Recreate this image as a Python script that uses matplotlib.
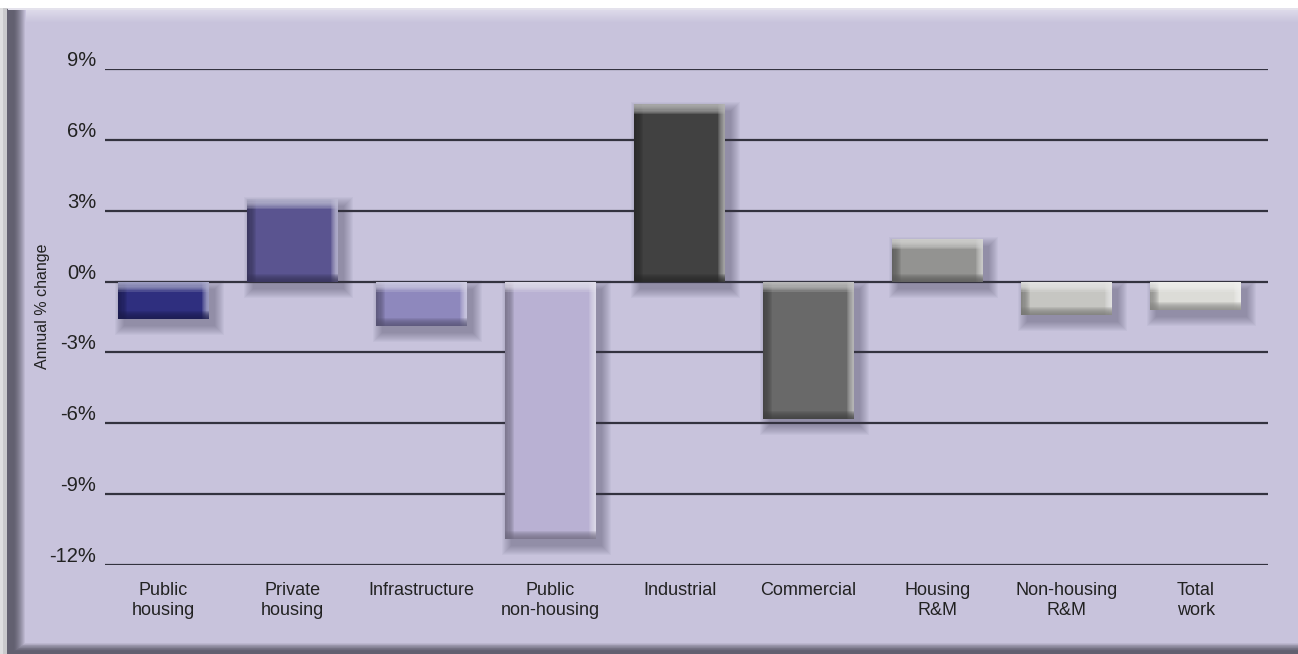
import matplotlib
matplotlib.use("Agg")
import matplotlib.pyplot as plt
from matplotlib.patches import Rectangle
from matplotlib.transforms import ScaledTranslation
import numpy as np

categories = ["Public\nhousing", "Private\nhousing", "Infrastructure", "Public\nnon-housing",
              "Industrial", "Commercial", "Housing\nR&M", "Non-housing\nR&M", "Total\nwork"]
values = [-1.6, 3.5, -1.9, -10.9, 7.5, -5.8, 1.8, -1.4, -1.2]
bar_colors = ["#2f2f7f", "#5a5490", "#8e88bd", "#b9b1d3", "#414141", "#696969",
              "#939391", "#c6c6c2", "#dcdcd7"]
yticks = [-12, -9, -6, -3, 0, 3, 6, 9]
ytick_labels = ["-12%", "-9%", "-6%", "-3%", "0%", "3%", "6%", "9%"]

W, H = 1298, 654
fig = plt.figure(figsize=(W / 100, H / 100), dpi=100)
fig.patch.set_facecolor("white")
plt.rcParams["font.family"] = ["Liberation Sans", "DejaVu Sans"]

def prect(x0, y0, x1, y1, color, alpha=1.0, z=0):
    # pixel coords, y from top
    fig.add_artist(Rectangle((x0 / W, 1 - y1 / H), (x1 - x0) / W, (y1 - y0) / H,
                             transform=fig.transFigure, facecolor=color,
                             edgecolor="none", alpha=alpha, zorder=z))

def mix(c1, c2, t):
    a = np.array(matplotlib.colors.to_rgb(c1))
    b = np.array(matplotlib.colors.to_rgb(c2))
    return tuple(a * (1 - t) + b * t)

BG = "#c8c3dc"
# outer light edge on the left
prect(0, 8, 8, H, "#c9c9cc", z=0)
prect(0, 8, 3, H, "#dedee0", z=0.01)
# dark frame base
prect(7, 9, W, H, "#626070", z=0.1)
# gradient from dark frame into lavender on left and bottom
n = 12
for k in range(n):
    t = ((k + 1) / n) ** 1.5
    prect(14 + k * 1.0, 9, W, H - 3 - k * 0.7, mix("#626070", BG, t), z=0.1 + 0.01 * k)
prect(26, 9, W, H - 12, BG, z=0.3)
# top light band
for k in range(13):
    t = k / 13
    prect(26, 9 + k, W, 10 + k, mix("#dedbea", BG, t), z=0.31)
prect(8, 8, W, 9.5, "#e4e2ec", z=0.32)

ax = fig.add_axes([105 / W, 1 - 565 / H, (1268 - 105) / W, (565 - 69) / H])
ax.set_facecolor("none")
ax.set_zorder(1)

x = np.arange(len(categories))
w = 0.705
ax.set_xlim(-0.453, 8.56)
ax.set_ylim(-12, 9)

px_x = 1 / 129.0
px_y = 21.0 / 496.0

vals = np.array(values)
tops = np.maximum(vals, 0)
bots = np.minimum(vals, 0)

# soft drop shadows
dx, dy = 6, 7
for k in range(10):
    g = k * 1.0
    ax.bar(x + dx * px_x, tops - bots + 2 * g * px_y, width=w + 2 * g * px_x,
           bottom=bots - dy * px_y - g * px_y, color="#3c3852", alpha=0.045,
           edgecolor="none", zorder=2)

ax.bar(x, vals, width=w, color=bar_colors, edgecolor="none", zorder=3)

s = 9 * px_x
t = 10 * px_y
light = [mix(c, "white", 0.62) for c in bar_colors]
dark = [mix(c, "black", 0.4) for c in bar_colors]
steps = 8
for i in range(steps):
    frac = (steps - i) / steps
    a = 0.17
    ax.bar(x - w / 2 + s * frac / 2, vals, width=s * frac, color=dark, alpha=a,
           edgecolor="none", zorder=4)
    ax.bar(x + w / 2 - s * 0.75 * frac / 2, vals, width=s * 0.75 * frac, color=light,
           alpha=a + 0.03, edgecolor="none", zorder=4)
    ax.bar(x, t * frac, width=w, bottom=tops - t * frac, color=light, alpha=a + 0.05,
           edgecolor="none", zorder=5)
    ax.bar(x, t * frac * 0.8, width=w, bottom=bots, color=dark, alpha=a,
           edgecolor="none", zorder=5)

ax.set_yticks(yticks)
ax.set_yticklabels([])
ytrans = ax.get_yaxis_transform() + ScaledTranslation(-9 / 100, 3 / 100, fig.dpi_scale_trans)
for v, lab in zip(yticks, ytick_labels):
    ax.text(0, v, lab, transform=ytrans, ha="right", va="baseline",
            fontsize=14.5, color="#222222", clip_on=False)
ax.yaxis.grid(True, color="#33323f", linewidth=1.6, zorder=1)
ax.set_axisbelow(True)
ax.set_xticks(x)
ax.set_xticklabels(categories, fontsize=13, color="#222222", linespacing=1.25)
ax.tick_params(axis="both", length=0)
ax.tick_params(axis="x", pad=12)
for sp in ax.spines.values():
    sp.set_visible(False)

fig.text(43 / W, 1 - 306 / H, "Annual % change", rotation=90, fontsize=11.5,
         color="#222222", ha="center", va="center", zorder=2)

fig.savefig("out.png", dpi=100)
